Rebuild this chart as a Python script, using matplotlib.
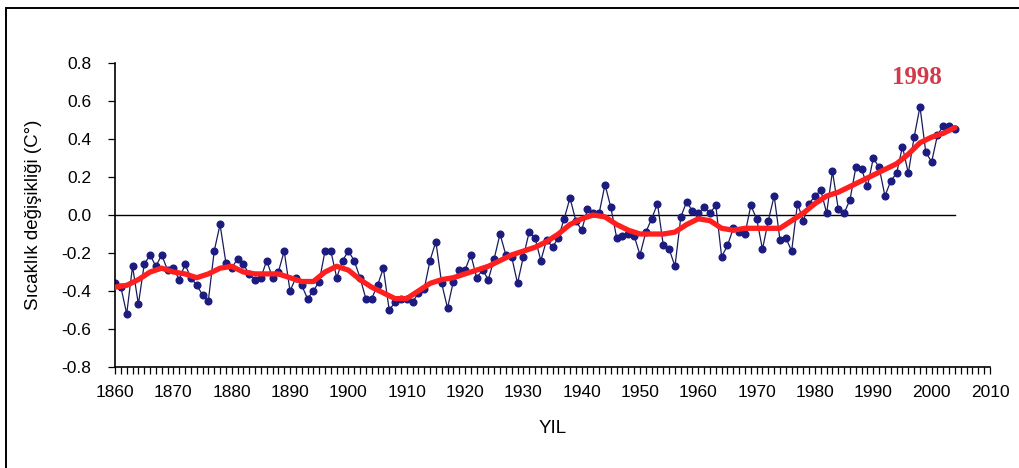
import numpy as np
import matplotlib
matplotlib.use("Agg")
import matplotlib.pyplot as plt
from matplotlib.patches import Rectangle
from matplotlib.ticker import MultipleLocator, FormatStrFormatter

# Annual global temperature anomalies (deg C), 1860-2004
years = list(range(1860, 2005))
anomaly = [
    -0.36, -0.38, -0.52, -0.27, -0.47, -0.26, -0.21, -0.27, -0.21, -0.29,  # 1860s
    -0.28, -0.34, -0.26, -0.33, -0.37, -0.42, -0.45, -0.19, -0.05, -0.25,  # 1870s
    -0.28, -0.23, -0.26, -0.31, -0.34, -0.33, -0.24, -0.33, -0.30, -0.19,  # 1880s
    -0.40, -0.33, -0.37, -0.44, -0.40, -0.35, -0.19, -0.19, -0.33, -0.24,  # 1890s
    -0.19, -0.24, -0.33, -0.44, -0.44, -0.37, -0.28, -0.50, -0.46, -0.44,  # 1900s
    -0.44, -0.46, -0.41, -0.39, -0.24, -0.14, -0.36, -0.49, -0.35, -0.29,  # 1910s
    -0.29, -0.21, -0.33, -0.29, -0.34, -0.23, -0.10, -0.21, -0.22, -0.36,  # 1920s
    -0.22, -0.09, -0.12, -0.24, -0.13, -0.17, -0.12, -0.02, 0.09, -0.03,   # 1930s
    -0.08, 0.03, 0.01, 0.01, 0.16, 0.04, -0.12, -0.11, -0.10, -0.11,       # 1940s
    -0.21, -0.09, -0.02, 0.06, -0.16, -0.18, -0.27, -0.01, 0.07, 0.02,     # 1950s
    0.01, 0.04, 0.01, 0.05, -0.22, -0.16, -0.07, -0.09, -0.10, 0.05,       # 1960s
    -0.02, -0.18, -0.03, 0.10, -0.13, -0.12, -0.19, 0.06, -0.03, 0.06,     # 1970s
    0.10, 0.13, 0.01, 0.23, 0.03, 0.01, 0.08, 0.25, 0.24, 0.15,            # 1980s
    0.30, 0.25, 0.10, 0.18, 0.22, 0.36, 0.22, 0.41, 0.57, 0.33,            # 1990s
    0.28, 0.42, 0.47, 0.47, 0.45,                                          # 2000-2004
]

# Smoothed trend curve (deg C), every second year
trend_years = list(range(1860, 2005, 2))
trend = [
    -0.38, -0.37, -0.34, -0.30, -0.28, -0.30, -0.31, -0.33, -0.31, -0.28,
    -0.27, -0.30, -0.31, -0.31, -0.31, -0.33, -0.35, -0.35, -0.30, -0.27,
    -0.29, -0.34, -0.38, -0.41, -0.44, -0.44, -0.40, -0.36, -0.34, -0.33,
    -0.31, -0.29, -0.27, -0.24, -0.21, -0.19, -0.17, -0.14, -0.10, -0.05,
    -0.02, 0.00, -0.01, -0.05, -0.08, -0.10, -0.10, -0.10, -0.09, -0.05,
    -0.02, -0.03, -0.07, -0.08, -0.07, -0.07, -0.07, -0.07, -0.03, 0.01,
    0.06, 0.10, 0.12, 0.15, 0.18, 0.21, 0.24, 0.27, 0.32, 0.38,
    0.41, 0.43, 0.46,
]

x_ticks = list(range(1860, 2011, 10))
y_ticks = [-0.8, -0.6, -0.4, -0.2, 0.0, 0.2, 0.4, 0.6, 0.8]
peak_label = "1998"
peak_year = 1998

plt.rcParams["font.family"] = ["Liberation Sans", "DejaVu Sans"]

fig = plt.figure(figsize=(10.19, 4.68), dpi=100)
ax = fig.add_axes([0.1129, 0.2158, 0.8586, 0.6496])

# outer frame
fig.patches.append(Rectangle((6 / 1019, -0.05), 1.1, 1 - 8 / 468 + 0.05,
                             transform=fig.transFigure, fill=False,
                             edgecolor="black", linewidth=1.4))

ax.axhline(0.0, xmin=0, xmax=(2004 - 1860) / 150, color="black", linewidth=1.0, zorder=1)

ax.plot(years, anomaly, color="#1a1a5e", linewidth=0.9, marker="o",
        markersize=4.8, markerfacecolor="#1c1c80", markeredgecolor="#1c1c80", zorder=2)
ax.plot(trend_years, trend, color="#ff1f1f", linewidth=3.8, solid_capstyle="round",
        solid_joinstyle="round", zorder=3)

peak_val = anomaly[years.index(peak_year)]
ax.text(peak_year - 0.6, peak_val + 0.095, peak_label, color="#d03a4a",
        fontsize=18, fontweight="bold", family="Liberation Serif",
        ha="center", va="bottom")

ax.set_xlim(1860, 2010)
ax.set_ylim(-0.8, 0.8)
ax.set_xticks(x_ticks)
ax.xaxis.set_minor_locator(MultipleLocator(1))
ax.set_yticks(y_ticks)
ax.yaxis.set_major_formatter(FormatStrFormatter("%.1f"))

for side in ("top", "right"):
    ax.spines[side].set_visible(False)
for side in ("left", "bottom"):
    ax.spines[side].set_linewidth(1.2)

ax.tick_params(axis="x", which="both", direction="out", length=5, width=0.9,
               labelsize=12.5, pad=8)
ax.tick_params(axis="y", which="major", direction="out", length=5, width=0.9,
               labelsize=12.5, pad=12)

ax.set_xlabel("YIL", fontsize=13.5, labelpad=14)
ax.set_ylabel("Sıcaklık değişikliği (C°)", fontsize=13.5, labelpad=14)

fig.savefig("out.png", dpi=100)
